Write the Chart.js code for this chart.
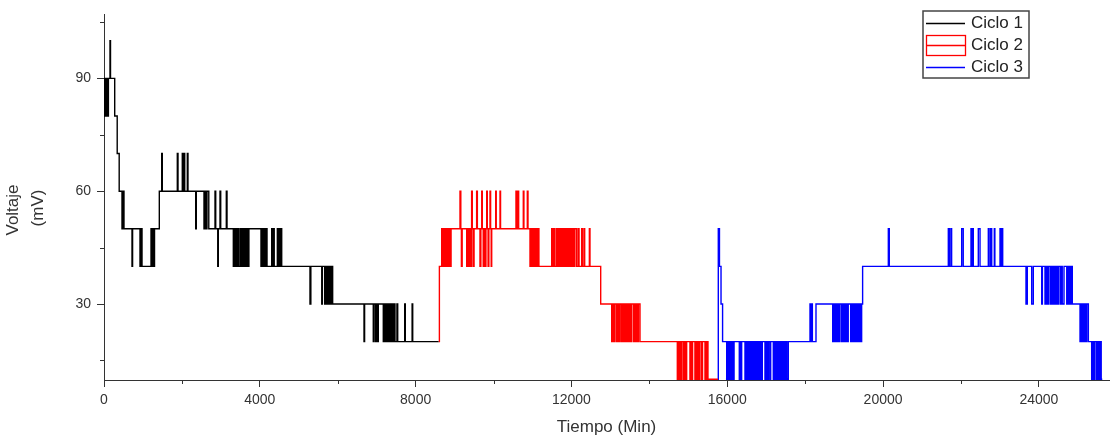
<!DOCTYPE html>
<html>
<head>
<meta charset="utf-8">
<script src="https://cdn.jsdelivr.net/npm/chart.js@4.4.1/dist/chart.umd.min.js"></script>
<style>
  html, body { margin: 0; padding: 0; background: #fff; }
  #wrap { width: 1110px; height: 438px; position: relative; }
</style>
</head>
<body>
<div id="wrap"><canvas id="grafico"></canvas></div>
<script>
// Ciclo 1 - tiempo (min) / voltaje (mV), cada valor se mantiene hasta el siguiente punto
const tiempo1 = [0, 13, 26, 39, 56, 74, 95, 113, 154, 167, 275, 339, 390, 462, 483, 513, 719, 734, 924, 945, 976,
  1207, 1225, 1250, 1271, 1297, 1420, 1481, 1497, 1882, 1900, 2010, 2028, 2054, 2072, 2139, 2156, 2354, 2370,
  2567, 2585, 2618, 2644, 2690, 2850, 2868, 2920, 2935, 2978, 2996, 3140, 3158,
  3320, 3355, 3390, 3420, 3450, 3490, 3520, 3550, 3580, 3615, 3650, 3680, 3705, 3720,
  4030, 4060, 4090, 4120, 4150, 4170, 4185,
  4305, 4325, 4345, 4370, 4450, 4475, 4500, 4530, 4545, 4562,
  5288, 5310,
  5590, 5605, 5665, 5690, 5710, 5730, 5750, 5770, 5790, 5810, 5830, 5850, 5870,
  6675, 6690, 6913, 6930, 6970, 6990, 7020, 7042,
  7170, 7200, 7230, 7260, 7290, 7320, 7350, 7380, 7410, 7440, 7470,
  7520, 7540, 7720, 7735, 7910, 7925, 8590];
const voltaje1 = [80, 90, 80, 90, 80, 90, 80, 90, 100, 90, 80, 70, 60, 50, 60, 50, 40, 50, 40, 50, 40,
  50, 40, 50, 40, 50, 60, 70, 60, 70, 60, 70, 60, 70, 60, 70, 60, 50, 60,
  50, 60, 50, 60, 50, 60, 50, 40, 50, 60, 50, 60, 50,
  40, 50, 40, 50, 40, 50, 40, 50, 40, 50, 40, 50, 40, 50,
  40, 50, 40, 50, 40, 50, 40,
  50, 40, 50, 40, 50, 40, 50, 40, 50, 40,
  30, 40,
  30, 40, 30, 40, 30, 40, 30, 40, 30, 40, 30, 40, 30,
  20, 30, 20, 30, 20, 30, 20, 30,
  20, 30, 20, 30, 20, 30, 20, 30, 20, 30, 20,
  30, 20, 30, 20, 30, 20, 20];

// Ciclo 2
const tiempo2 = [8590, 8610, 8669, 8700, 8730, 8760, 8790, 8820, 8850, 8880, 8910,
  9139, 9160, 9175, 9195,
  9311, 9340, 9365, 9395, 9420, 9437, 9455, 9480, 9500, 9566, 9585,
  9652, 9675, 9697, 9712, 9735, 9760, 9785, 9805, 9825, 9840, 9860, 9880, 9909, 9925, 9940, 9953,
  10055, 10070, 10166, 10180,
  10576, 10600, 10628, 10645, 10764, 10780, 10867, 10885,
  10936, 10965, 10990, 11020, 11050, 11080, 11110, 11135, 11165,
  11493, 11510, 11545, 11578, 11621, 11645, 11670, 11700, 11730, 11760, 11790, 11820, 11850, 11880,
  11910, 11940, 11970, 12000, 12030, 12060, 12090, 12135, 12176, 12195, 12262, 12280, 12321, 12340, 12460, 12476,
  12751,
  13033, 13060, 13090, 13118, 13160, 13190, 13220, 13250, 13288, 13310, 13330, 13360, 13390, 13420,
  13450, 13480, 13510, 13540, 13587, 13610, 13630, 13660, 13690, 13720, 13760,
  14718, 14745, 14770, 14790, 14805, 14830, 14872, 14900, 14930, 14958, 15042, 15065, 15084, 15110,
  15170, 15200, 15230, 15260, 15282, 15300, 15343, 15365, 15428, 15445, 15472, 15490, 15505, 15762];
const voltaje2 = [20, 40, 50, 40, 50, 40, 50, 40, 50, 40, 50,
  60, 50, 40, 50,
  40, 50, 40, 50, 40, 60, 50, 40, 50, 60, 50,
  40, 50, 60, 50, 40, 50, 40, 50, 60, 50, 40, 50, 60, 50, 40, 50,
  60, 50, 60, 50,
  60, 50, 60, 50, 60, 50, 60, 50,
  40, 50, 40, 50, 40, 50, 40, 50, 40,
  50, 40, 50, 40, 50, 40, 50, 40, 50, 40, 50, 40, 50, 40,
  50, 40, 50, 40, 50, 40, 50, 40, 50, 40, 50, 40, 50, 40, 50, 40,
  30,
  20, 30, 20, 30, 20, 30, 20, 30, 20, 30, 20, 30, 20, 30,
  20, 30, 20, 30, 20, 30, 20, 30, 20, 30, 20,
  10, 20, 10, 20, 10, 20, 10, 20, 10, 20, 10, 20, 10, 20,
  10, 20, 10, 20, 10, 20, 10, 20, 10, 20, 10, 20, 10, 10];

// Ciclo 3
const tiempo3 = [15762, 15770, 15800, 15840, 15880,
  15985, 16010, 16040, 16070, 16100, 16130, 16155, 16175,
  16309, 16330, 16350, 16370,
  16455, 16480, 16510, 16540, 16570, 16600, 16627, 16645,
  16668, 16695, 16720, 16750, 16780, 16810, 16840, 16865, 16884, 16900,
  16968, 16995, 17030, 17060, 17097, 17115,
  17182, 17205, 17230, 17255, 17280, 17305, 17330, 17355, 17380, 17405, 17430, 17455, 17480, 17505, 17530, 17567,
  18124, 18140, 18167, 18185, 18278,
  18707, 18730, 18766, 18785, 18809, 18840, 18870, 18894, 18937, 18965, 18990, 19015, 19040, 19065, 19090, 19106,
  19168, 19195, 19220, 19245, 19270, 19295, 19320, 19345, 19370, 19395, 19420, 19450,
  19475,
  20135, 20160,
  21675, 21700, 21740, 21760,
  22018, 22058, 22257, 22280, 22300, 22316, 22445, 22489, 22702, 22720, 22760, 22789, 22856, 22870,
  23002, 23030, 23050, 23071,
  23669, 23703, 23816, 23857, 24073, 24090, 24157, 24185, 24220, 24242,
  24286, 24310, 24335, 24360, 24385, 24410, 24435, 24460, 24480, 24499,
  24543, 24570, 24600, 24645, 24715, 24740, 24770, 24800, 24830, 24845, 24858,
  25056, 25080, 25105, 25130, 25155, 25180, 25205, 25230, 25270,
  25355, 25380, 25410, 25440, 25483, 25510, 25540, 25570, 25600, 25627];
const voltaje3 = [10, 50, 40, 30, 20,
  10, 20, 10, 20, 10, 20, 10, 20,
  10, 20, 10, 20,
  10, 20, 10, 20, 10, 20, 10, 20,
  10, 20, 10, 20, 10, 20, 10, 20, 10, 20,
  10, 20, 10, 20, 10, 20,
  10, 20, 10, 20, 10, 20, 10, 20, 10, 20, 10, 20, 10, 20, 10, 20,
  30, 20, 30, 20, 30,
  20, 30, 20, 30, 20, 30, 20, 30, 20, 30, 20, 30, 20, 30, 20, 30,
  20, 30, 20, 30, 20, 30, 20, 30, 20, 30, 20, 30,
  40,
  50, 40,
  50, 40, 50, 40,
  50, 40, 50, 40, 50, 40, 50, 40, 50, 40, 50, 40, 50, 40,
  50, 40, 50, 40,
  30, 40, 30, 40, 30, 40, 30, 40, 30, 40,
  30, 40, 30, 40, 30, 40, 30, 40, 30, 40,
  30, 40, 30, 40, 30, 40, 30, 40, 30, 40, 30,
  20, 30, 20, 30, 20, 30, 20, 30, 20,
  10, 20, 10, 20, 10, 20, 10, 20, 10, 10];

const nombres = ['Ciclo 1', 'Ciclo 2', 'Ciclo 3'];
const xTicksMayor = [0, 4000, 8000, 12000, 16000, 20000, 24000];
const xTicksMenor = [2000, 6000, 10000, 14000, 18000, 22000];
const yTicksMayor = [30, 60, 90];
const yTicksMenor = [15, 45, 75, 105];

const FUENTE = '"Liberation Sans", Arial, sans-serif';
const GRIS = '#333';

function puntos(xs, ys) {
  return xs.map((x, i) => ({ x: x, y: ys[i] }));
}

// ticks menores, titulos de ejes y leyenda estilo Origin
const extras = {
  id: 'extras',
  afterDraw(chart) {
    const ctx = chart.ctx;
    const xs = chart.scales.x, ys = chart.scales.y;
    const area = chart.chartArea;
    ctx.save();
    ctx.strokeStyle = GRIS;
    ctx.lineWidth = 1;
    ctx.beginPath();
    xTicksMenor.forEach(v => {
      const px = Math.round(xs.getPixelForValue(v)) + 0.5;
      ctx.moveTo(px, area.bottom);
      ctx.lineTo(px, area.bottom + 4);
    });
    yTicksMenor.forEach(v => {
      const py = Math.round(ys.getPixelForValue(v)) + 0.5;
      ctx.moveTo(area.left, py);
      ctx.lineTo(area.left - 4, py);
    });
    ctx.stroke();

    ctx.fillStyle = GRIS;
    ctx.font = '17px ' + FUENTE;
    ctx.textAlign = 'center';
    ctx.textBaseline = 'middle';
    ctx.fillText('Tiempo (Min)', (area.left + area.right) / 2, 427);

    ctx.save();
    ctx.translate(13, 210);
    ctx.rotate(-Math.PI / 2);
    ctx.fillText('Voltaje', 0, 0);
    ctx.restore();
    ctx.save();
    ctx.translate(38, 208);
    ctx.rotate(-Math.PI / 2);
    ctx.fillText('(mV)', 0, 0);
    ctx.restore();

    // leyenda
    ctx.lineWidth = 1.5;
    ctx.strokeStyle = '#444';
    ctx.strokeRect(923, 11, 106, 67);
    ctx.textAlign = 'left';
    chart.data.datasets.forEach((ds, i) => {
      const y = 23 + 22 * i;
      ctx.strokeStyle = ds.borderColor;
      ctx.lineWidth = 1.3;
      if (i === 1) {
        ctx.strokeRect(926.5, 35.5, 39, 20);
        ctx.beginPath();
        ctx.moveTo(926.5, 45.5);
        ctx.lineTo(965.5, 45.5);
        ctx.stroke();
      } else {
        ctx.beginPath();
        ctx.moveTo(926, y + 0.5);
        ctx.lineTo(965, y + 0.5);
        ctx.stroke();
      }
      ctx.fillStyle = '#222';
      ctx.fillText(ds.label, 971, y);
    });
    ctx.restore();
  }
};

const ctx = document.getElementById('grafico').getContext('2d');
new Chart(ctx, {
  type: 'line',
  data: {
    datasets: [
      { label: nombres[0], data: puntos(tiempo1, voltaje1), borderColor: '#000000' },
      { label: nombres[1], data: puntos(tiempo2, voltaje2), borderColor: '#ff0000' },
      { label: nombres[2], data: puntos(tiempo3, voltaje3), borderColor: '#0000ff' },
    ],
  },
  options: {
    responsive: true,
    maintainAspectRatio: false,
    animation: false,
    parsing: false,
    datasets: {
      line: { stepped: 'before', pointRadius: 0, borderWidth: 1.4, fill: false },
    },
    layout: { padding: { top: 8, right: 1, left: 0, bottom: 0 } },
    plugins: { legend: { display: false }, tooltip: { enabled: false } },
    scales: {
      x: {
        type: 'linear',
        min: 0,
        max: 25800,
        afterBuildTicks: s => { s.ticks = xTicksMayor.map(v => ({ value: v })); },
        afterFit: s => { s.height = 58; },
        grid: { drawOnChartArea: false, drawTicks: true, tickLength: 7, tickColor: GRIS },
        border: { display: true, color: GRIS, width: 1 },
        ticks: { color: GRIS, font: { family: FUENTE, size: 14 }, padding: 5, maxRotation: 0, callback: v => String(v) },
      },
      y: {
        type: 'linear',
        min: 9.8,
        max: 107,
        afterBuildTicks: s => { s.ticks = yTicksMayor.map(v => ({ value: v })); },
        afterFit: s => { s.width = 104; },
        grid: { drawOnChartArea: false, drawTicks: true, tickLength: 7, tickColor: GRIS },
        border: { display: true, color: GRIS, width: 1 },
        ticks: { color: GRIS, font: { family: FUENTE, size: 14 }, padding: 6, callback: v => String(v) },
      },
    },
  },
  plugins: [extras],
});
</script>
</body>
</html>
